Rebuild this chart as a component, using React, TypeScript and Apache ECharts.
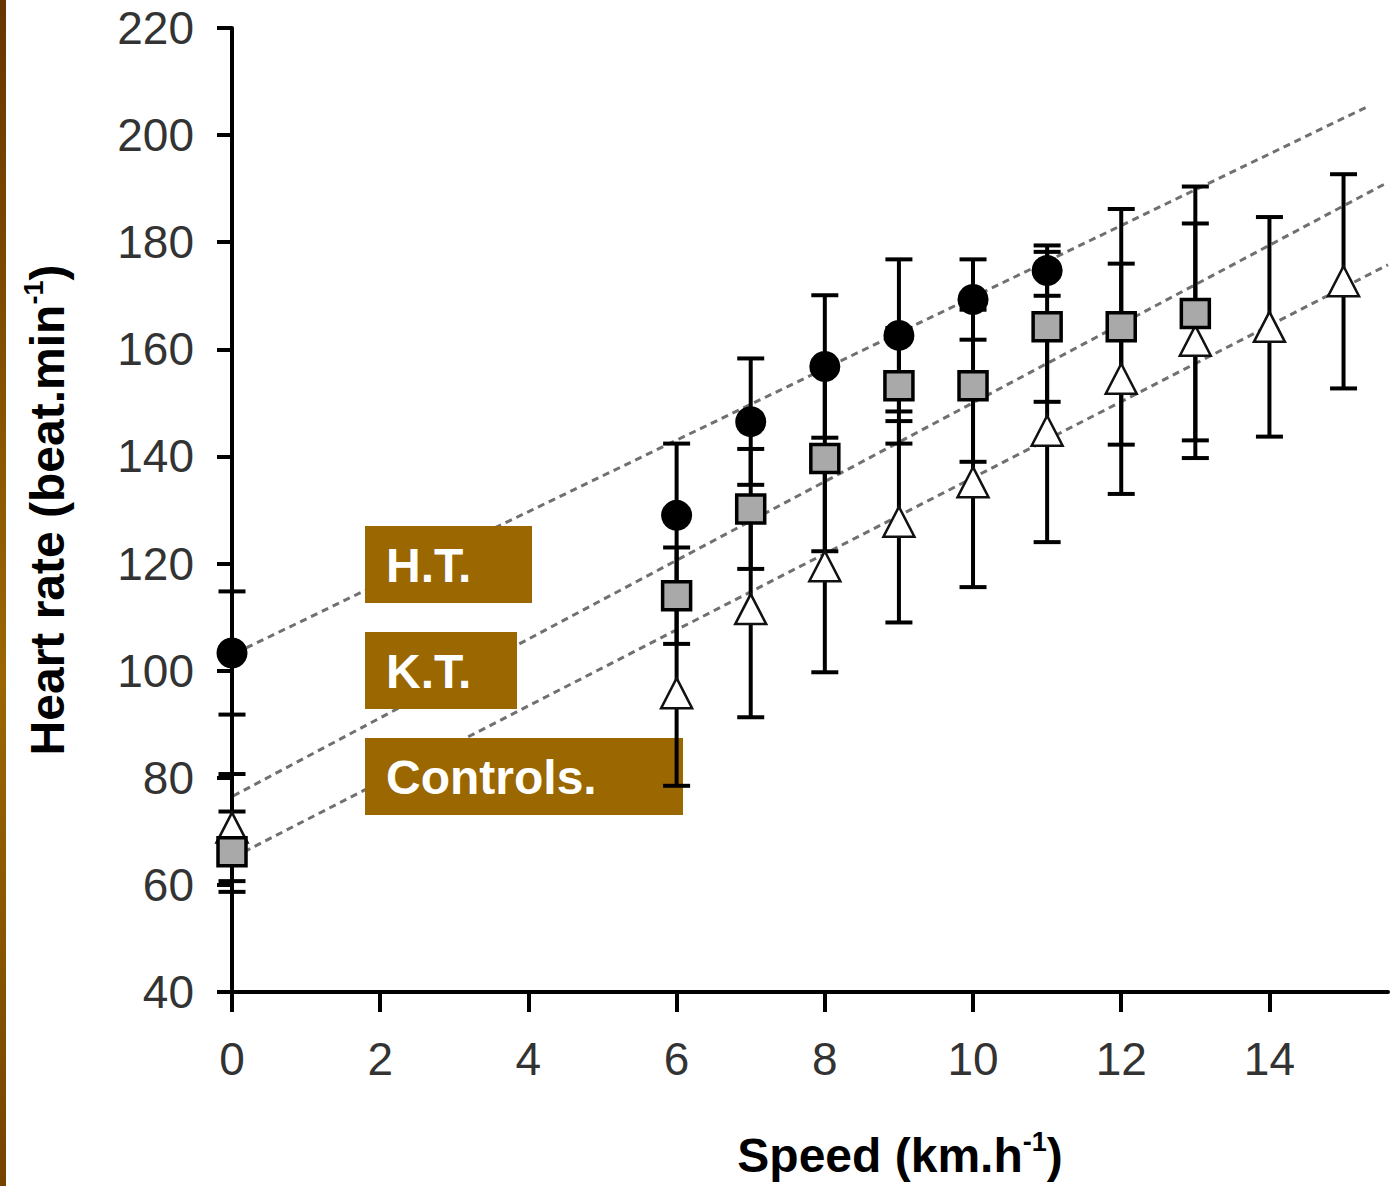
import React, { useEffect, useRef } from "react";
import * as echarts from "echarts";

// ---- data ----
const xTicks = [0, 2, 4, 6, 8, 10, 12, 14];

const htSpeed = [0, 6, 7, 8, 9, 10, 11];
const htHR = [103.3, 129, 146.5, 156.8, 162.6, 169.3, 174.7];
const htErr = [11.5, 13.4, 11.8, 13.3, 14.2, 7.5, 4.7];

const ktSpeed = [0, 6, 7, 8, 9, 10, 11, 12, 13];
const ktHR = [66.2, 114, 130.2, 139.6, 153.2, 153.2, 164.2, 164.2, 166.7];
const ktErr = [7.5, 9, 11.2, 17.3, 10.8, 14.2, 14, 22, 23.7];

const ctSpeed = [0, 6, 7, 8, 9, 10, 11, 12, 13, 14, 15];
const ctHR = [70.7, 95.8, 111.5, 119.5, 127.8, 135.2, 144.8, 154.5, 161.6, 164.2, 172.7];
const ctErr = [10, 17.3, 20.2, 19.8, 18.8, 19.6, 20.8, 21.5, 21.9, 20.5, 20];

// regression line end points (speed, heart rate)
const htFit = [[-0.1, 102.3], [15.35, 205.5]];
const ktFit = [[-0.27, 74.5], [15.6, 191.2]];
const ctFit = [[-0.27, 63.1], [15.6, 175.8]];

const groupLabels = ["H.T.", "K.T.", "Controls."];

const FONT = "'Liberation Sans', Arial, Helvetica, sans-serif";
const BROWN = "#9a6700";

function pts(xs: number[], ys: number[]) {
  return xs.map((x, i) => [x, ys[i]]);
}
function errs(xs: number[], ys: number[], es: number[]) {
  return xs.map((x, i) => [x, ys[i] - es[i], ys[i] + es[i]]);
}

const errorBarRender = (params: any, api: any) => {
  const x = api.value(0);
  const lo = api.value(1);
  const hi = api.value(2);
  const a = api.coord([x, hi]);
  const b = api.coord([x, lo]);
  const hw = 13.5;
  const st = { stroke: "#000", lineWidth: 4 };
  return {
    type: "group",
    children: [
      { type: "line", shape: { x1: a[0], y1: a[1], x2: b[0], y2: b[1] }, style: st },
      { type: "line", shape: { x1: a[0] - hw, y1: a[1], x2: a[0] + hw, y2: a[1] }, style: st },
      { type: "line", shape: { x1: b[0] - hw, y1: b[1], x2: b[0] + hw, y2: b[1] }, style: st },
    ],
  };
};

export default function App() {
  const ref = useRef<HTMLDivElement>(null);
  useEffect(() => {
    document.body.style.margin = "0";
    if (!ref.current) return;
    const chart = echarts.init(ref.current, undefined, { renderer: "svg" });

    const fitLine = (name: string, data: number[][]) => ({
      name,
      type: "line",
      data,
      symbol: "none",
      clip: false,
      z: 1,
      lineStyle: { color: "#707070", width: 3, type: [7, 5] },
      silent: true,
    });
    const errSeries = (name: string, data: number[][]) => ({
      name,
      type: "custom",
      data,
      renderItem: errorBarRender,
      encode: { x: 0, y: [1, 2] },
      z: 4,
      clip: false,
      silent: true,
    });

    const boxes = [
      { top: 526, w: 167 },
      { top: 632, w: 152 },
      { top: 738, w: 318 },
    ];
    const graphics: any[] = [
      {
        type: "rect",
        shape: { x: 0, y: 0, width: 6, height: 1186 },
        style: {
          fill: new echarts.graphic.LinearGradient(0, 0, 0, 1, [
            { offset: 0, color: "#673500" },
            { offset: 0.57, color: "#9c6700" },
            { offset: 1, color: "#754300" },
          ]),
        },
        z: 3,
      },
    ];
    boxes.forEach((b, i) => {
      graphics.push({
        type: "rect",
        shape: { x: 365, y: b.top, width: b.w, height: 77 },
        style: { fill: BROWN },
        z: 3,
      });
      graphics.push({
        type: "text",
        x: 386,
        y: b.top + 39,
        style: {
          text: groupLabels[i],
          fill: "#ffffff",
          font: `bold 48px ${FONT}`,
          verticalAlign: "middle",
          align: "left",
        },
        z: 3,
      });
    });

    const titleRich = {
      t: { fontSize: 48, fontWeight: "bold", fontFamily: FONT, color: "#000", lineHeight: 54 },
      s: { fontSize: 27, fontWeight: "bold", fontFamily: FONT, color: "#000", verticalAlign: "top", lineHeight: 54 },
    };

    chart.setOption({
      animation: false,
      backgroundColor: "#ffffff",
      grid: { left: 232, top: 28, right: 4, bottom: 194, containLabel: false },
      xAxis: {
        type: "value",
        min: 0,
        max: 15.6,
        interval: 2,
        name: "{t|Speed (km.h}{s|-1}{t|)}",
        nameLocation: "middle",
        nameGap: 136,
        nameTextStyle: { padding: [0, 0, 0, 180], rich: titleRich },
        axisLine: { show: true, onZero: false, lineStyle: { color: "#000", width: 4 } },
        axisTick: { show: true, length: 20, lineStyle: { color: "#000", width: 4 }, customValues: xTicks },
        axisLabel: {
          customValues: xTicks,
          margin: 44,
          fontSize: 46,
          fontFamily: FONT,
          color: "#333",
        },
        splitLine: { show: false },
      },
      yAxis: {
        type: "value",
        min: 40,
        max: 220,
        interval: 20,
        name: "{t|Heart rate (beat.min}{s|-1}{t|)}",
        nameLocation: "middle",
        nameGap: 158,
        nameTextStyle: { rich: titleRich },
        axisLine: { show: true, onZero: false, lineStyle: { color: "#000", width: 4 } },
        axisTick: { show: true, length: 15, lineStyle: { color: "#000", width: 4 } },
        axisLabel: { margin: 38, fontSize: 46, fontFamily: FONT, color: "#333" },
        splitLine: { show: false },
      },
      graphic: graphics,
      series: [
        fitLine("H.T. fit", htFit),
        fitLine("K.T. fit", ktFit),
        fitLine("Controls fit", ctFit),
        errSeries("H.T. SD", errs(htSpeed, htHR, htErr)),
        errSeries("K.T. SD", errs(ktSpeed, ktHR, ktErr)),
        errSeries("Controls SD", errs(ctSpeed, ctHR, ctErr)),
        {
          name: "Controls",
          type: "scatter",
          data: pts(ctSpeed, ctHR),
          symbol: "triangle",
          symbolSize: [31, 30],
          itemStyle: { color: "#ffffff", borderColor: "#111", borderWidth: 2.5, opacity: 1 },
          z: 5,
          clip: false,
        },
        {
          name: "K.T.",
          type: "scatter",
          data: pts(ktSpeed, ktHR),
          symbol: "rect",
          symbolSize: 28,
          itemStyle: { color: "#a9a9a9", borderColor: "#000", borderWidth: 3.5, opacity: 1 },
          z: 6,
          clip: false,
        },
        {
          name: "H.T.",
          type: "scatter",
          data: pts(htSpeed, htHR),
          symbol: "circle",
          symbolSize: 31,
          itemStyle: { color: "#000", opacity: 1 },
          z: 7,
          clip: false,
        },
      ],
    });
    return () => chart.dispose();
  }, []);
  return <div ref={ref} style={{ width: 1392, height: 1186 }} />;
}
